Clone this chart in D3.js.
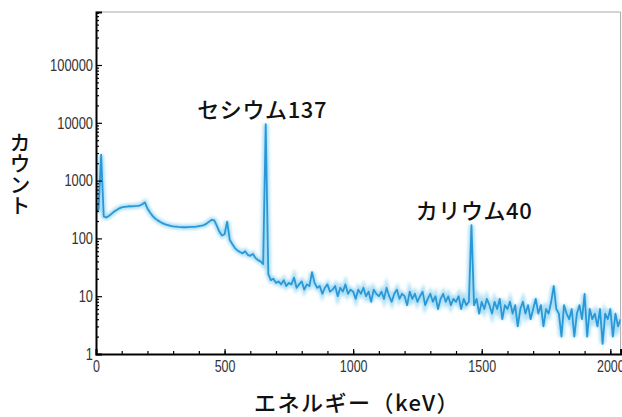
<!DOCTYPE html>
<html>
<head>
<meta charset="utf-8">
<script src="https://cdnjs.cloudflare.com/ajax/libs/d3/7.8.5/d3.min.js"></script>
<style>
  body { margin: 0; background: #fff; }
  .tick text { font-family: "Liberation Sans", Arial, sans-serif; fill: #333; }
  .jp { font-family: "Noto Sans CJK JP", sans-serif; fill: #111; }
</style>
</head>
<body>
<svg id="chart" width="622" height="417"></svg>
<script>
// spectrum, one count per 10 keV bin starting at 0 keV
var binKeV = 10;
var counts = [
  290, 320, 2800, 240, 230, 245, 265, 290, 310, 330,
  345, 350, 355, 360, 358, 362, 365, 370, 390, 420,
  330, 280, 245, 220, 205, 192, 182, 175, 170, 165,
  162, 160, 158, 157, 156, 156, 157, 158, 158, 160,
  163, 166, 170, 180, 195, 210, 205, 165, 130, 112,
  118, 195, 95, 80, 68, 62, 58, 55, 60, 52,
  50, 54, 46, 42, 40, 36, 9500, 24, 19, 20,
  17, 18, 16, 19, 15, 17, 16, 21, 14, 16,
  18, 13, 16, 15, 26, 17, 14, 15, 11, 14,
  16, 12, 13, 15, 10, 14, 12, 16, 11, 13,
  12, 9, 13, 11, 14, 10, 12, 8, 13, 11,
  10, 12, 9, 14, 10, 8, 11, 13, 9, 11,
  10, 7, 12, 9, 11, 8, 10, 12, 7, 9,
  11, 8, 10, 6, 9, 11, 8, 10, 7, 9,
  8, 10, 6, 9, 7, 8, 170, 7, 9, 5,
  8, 6, 9, 7, 5, 8, 6, 9, 4, 7,
  6, 8, 5, 7, 3, 6, 8, 5, 7, 4,
  6, 9, 5, 7, 3, 6, 5, 8, 15, 6,
  5, 2, 7, 5, 4, 6, 2, 5, 7, 4,
  11, 2, 6, 4, 5, 3, 6, 1.5, 5, 4,
  6, 2, 5, 3, 4
];
var yTickValues = [1, 10, 100, 1000, 10000, 100000];
var xTickValues = [0, 500, 1000, 1500, 2000];
var peakLabels = [
  { name: "セシウム137", energy: 662, count: 9500 },
  { name: "カリウム40", energy: 1461, count: 170 }
];
var xTitle = "エネルギー（keV）";
var yTitle = "カウント";

var svg = d3.select("#chart");
var pLeft = 96, pRight = 620.6, pTop = 12, pBottom = 354;
var squeeze = 0.78; // tick labels in the original are condensed

var x = d3.scaleLinear().domain([0, 2040]).range([pLeft, pRight]);
var y = d3.scaleLog().domain([1, 826000]).range([pBottom, pTop]);

var data = counts.map(function(c, i) { return { e: i * binKeV, c: c }; });

// faint frame
svg.append("path")
  .attr("d", "M" + pLeft + "," + pTop + "H" + pRight + "V" + pBottom)
  .attr("fill", "none")
  .attr("stroke", "#aaa")
  .attr("stroke-width", 1);

// glow filter for the trace
var defs = svg.append("defs");
defs.append("filter").attr("id", "glow")
  .attr("x", "-5%").attr("y", "-5%").attr("width", "110%").attr("height", "110%")
  .append("feGaussianBlur").attr("stdDeviation", 1.6);
defs.append("clipPath").attr("id", "clip")
  .append("rect").attr("x", pLeft).attr("y", pTop).attr("width", pRight - pLeft).attr("height", pBottom - pTop);

var line = d3.line()
  .x(function(d) { return x(d.e); })
  .y(function(d) { return y(d.c); });

var g = svg.append("g").attr("clip-path", "url(#clip)");
g.append("path").datum(data)
  .attr("d", line)
  .attr("fill", "none")
  .attr("stroke", "#8fd3f3")
  .attr("stroke-width", 5.5)
  .attr("opacity", 0.75)
  .attr("filter", "url(#glow)");
g.append("path").datum(data)
  .attr("d", line)
  .attr("fill", "none")
  .attr("stroke", "#2a98d6")
  .attr("stroke-width", 1.8)
  .attr("stroke-linejoin", "round");

// x axis: minor ticks every 100 keV, pointing inward
var xAxis = svg.append("g")
  .attr("transform", "translate(0," + pBottom + ")")
  .call(d3.axisBottom(x).tickValues(xTickValues).tickSize(-5).tickPadding(7).tickFormat(d3.format("d")));
xAxis.selectAll(".tick text")
  .attr("font-size", 16)
  .attr("transform", "scale(" + squeeze + ",1)");
svg.append("g")
  .attr("transform", "translate(0," + pBottom + ")")
  .call(d3.axisBottom(x).tickValues(d3.range(100, 2040, 100)).tickSize(-3).tickFormat(""))
  .call(function(s) { s.select(".domain").remove(); });

// y axis with minor ticks per decade
var minor = [];
yTickValues.forEach(function(dec) {
  for (var k = 2; k <= 9; k++) if (dec * k <= 826000) minor.push(dec * k);
});
var yAxis = svg.append("g")
  .attr("transform", "translate(" + pLeft + ",0)")
  .call(d3.axisLeft(y).tickValues(yTickValues).tickSize(-6).tickPadding(3).tickFormat(d3.format("d")));
yAxis.selectAll(".tick text")
  .attr("font-size", 16.5)
  .attr("x", -3 / squeeze)
  .attr("transform", "scale(" + squeeze + ",1)");
svg.append("g")
  .attr("transform", "translate(" + pLeft + ",0)")
  .call(d3.axisLeft(y).tickValues(minor).tickSize(-3).tickFormat(""))
  .call(function(s) { s.select(".domain").remove(); });

svg.selectAll(".domain").attr("stroke", "#000").attr("stroke-width", 2);
svg.selectAll(".tick line").attr("stroke", "#000").attr("stroke-width", 1.2);

// peak labels
svg.selectAll(".peak").data(peakLabels).enter().append("text")
  .attr("class", "jp peak")
  .attr("x", function(d) { return x(d.energy) - (d.count < 1000 ? 56 : 69); })
  .attr("y", function(d) { return y(d.count) - 6; })
  .attr("font-size", 22)
  .attr("font-weight", 500)
  .attr("letter-spacing", 0.6)
  .text(function(d) { return d.name; });

// titles
svg.append("text").attr("class", "jp")
  .attr("x", 357).attr("y", 411)
  .attr("text-anchor", "middle")
  .attr("font-size", 22)
  .attr("font-weight", 500)
  .attr("letter-spacing", 1.5)
  .text(xTitle);

svg.append("text").attr("class", "jp")
  .attr("x", 20).attr("y", 132)
  .attr("font-size", 21)
  .attr("font-weight", 500)
  .style("writing-mode", "vertical-rl")
  .style("text-orientation", "upright")
  .text(yTitle);
</script>
</body>
</html>
